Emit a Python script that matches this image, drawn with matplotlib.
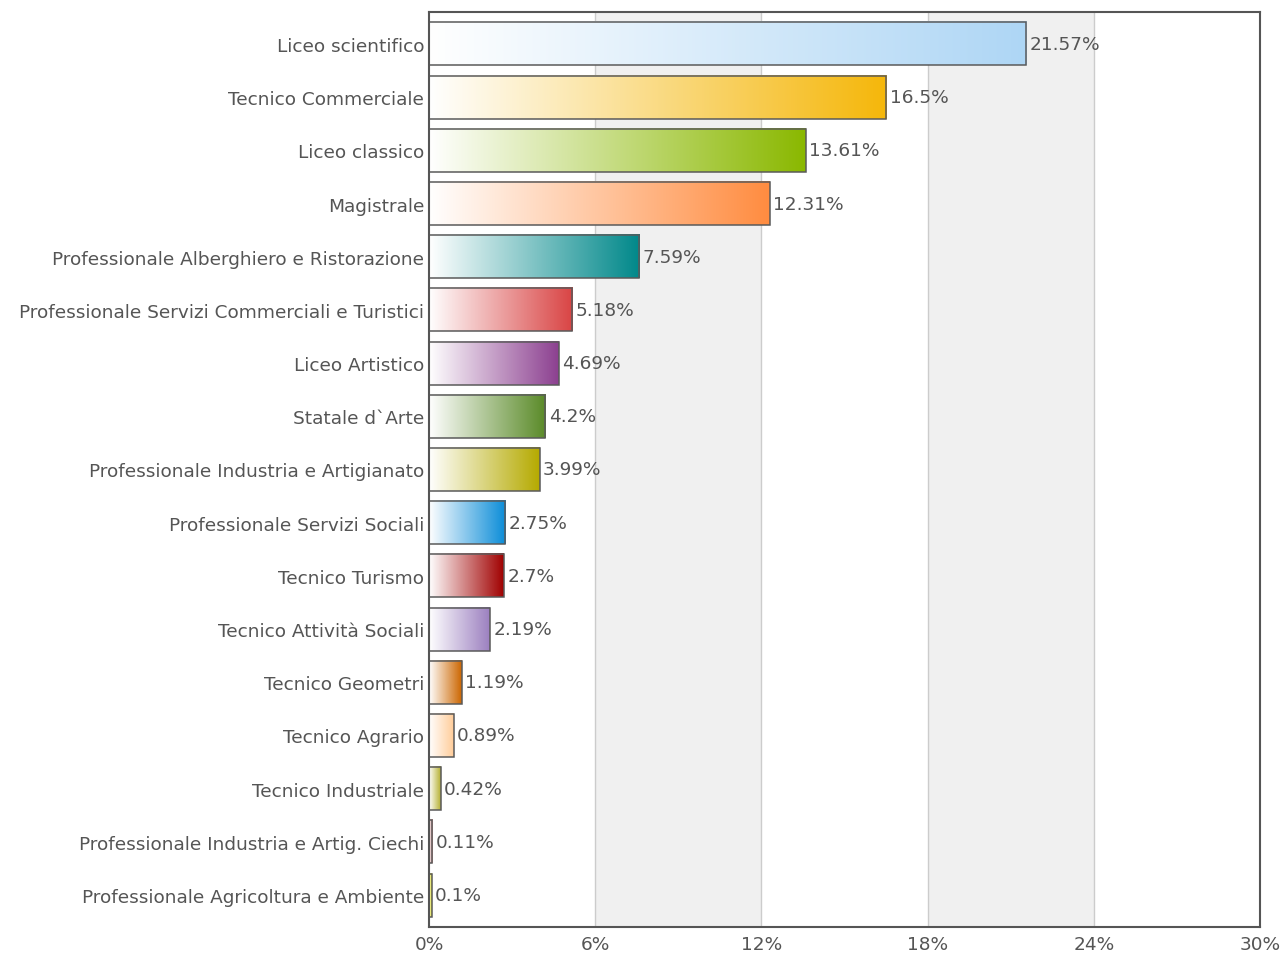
import numpy as np
import matplotlib
matplotlib.use("Agg")
import matplotlib.pyplot as plt
from matplotlib.colors import to_rgb

plt.rcParams['font.family'] = ['DejaVu Sans']

categories = [
    "Liceo scientifico", "Tecnico Commerciale", "Liceo classico", "Magistrale",
    "Professionale Alberghiero e Ristorazione",
    "Professionale Servizi Commerciali e Turistici",
    "Liceo Artistico", "Statale d`Arte", "Professionale Industria e Artigianato",
    "Professionale Servizi Sociali", "Tecnico Turismo", "Tecnico Attività Sociali",
    "Tecnico Geometri", "Tecnico Agrario", "Tecnico Industriale",
    "Professionale Industria e Artig. Ciechi",
    "Professionale Agricoltura e Ambiente",
]
values = [21.57, 16.5, 13.61, 12.31, 7.59, 5.18, 4.69, 4.2, 3.99, 2.75, 2.7,
          2.19, 1.19, 0.89, 0.42, 0.11, 0.1]
value_labels = ["21.57%", "16.5%", "13.61%", "12.31%", "7.59%", "5.18%", "4.69%",
                "4.2%", "3.99%", "2.75%", "2.7%", "2.19%", "1.19%", "0.89%",
                "0.42%", "0.11%", "0.1%"]
colors = ["#aed6f5", "#f5b70a", "#8ab800", "#ff8c40", "#00888a", "#d94444",
          "#8c4090", "#5a8a28", "#b5aa00", "#0a8cd8", "#a00000", "#9c80c0",
          "#cc6600", "#ffcc99", "#b5b030", "#cc8080", "#e0e000"]
xticks = [0, 6, 12, 18, 24, 30]
xtick_labels = ["0%", "6%", "12%", "18%", "24%", "30%"]

text_color = "#555555"
fs = 13.3
fig = plt.figure(figsize=(12.83, 9.54), dpi=100)
ax = fig.add_axes([429/1283, 1-928/954, (1260-429)/1283, (928-13)/954])

n = len(categories)
ylim = (n - 1 + 0.6, -0.6)

# alternating bands
for i in range(len(xticks) - 1):
    if i % 2 == 1:
        ax.axvspan(xticks[i], xticks[i+1], color="#f0f0f0", zorder=0, lw=0)
for xt in xticks[1:-1]:
    ax.axvline(xt, color="#cccccc", lw=1, zorder=0.5)

h = 0.81
for i, (v, c) in enumerate(zip(values, colors)):
    rgb = np.array(to_rgb(c))
    t = np.linspace(0, 1, 256)[None, :, None]
    grad = (1 - t) * np.ones(3) + t * rgb
    ax.imshow(grad, extent=[0, v, i + h/2, i - h/2], aspect="auto",
              interpolation="bilinear", zorder=2)
ax.barh(range(n), values, height=h, fill=False, edgecolor="#5a5a5a",
        linewidth=1.1, zorder=3)
ax.set_xlim(0, 30)
ax.set_ylim(*ylim)

for i, (v, lab) in enumerate(zip(values, value_labels)):
    ax.annotate(lab, (v, i), xytext=(2.5, 0), textcoords="offset points",
                va="center", ha="left", fontsize=fs, color=text_color, zorder=4)

ax.set_yticks(range(n))
ax.set_yticklabels(categories, fontsize=fs, color=text_color)
ax.set_xticks(xticks)
ax.set_xticklabels(xtick_labels, fontsize=fs, color=text_color)
ax.tick_params(axis="y", length=0, pad=3.5)
ax.tick_params(axis="x", length=0, pad=6)
for s in ax.spines.values():
    s.set_color("#555555")
    s.set_linewidth(1.5)
    s.set_zorder(5)

fig.savefig("out.png", dpi=100, facecolor="white")
